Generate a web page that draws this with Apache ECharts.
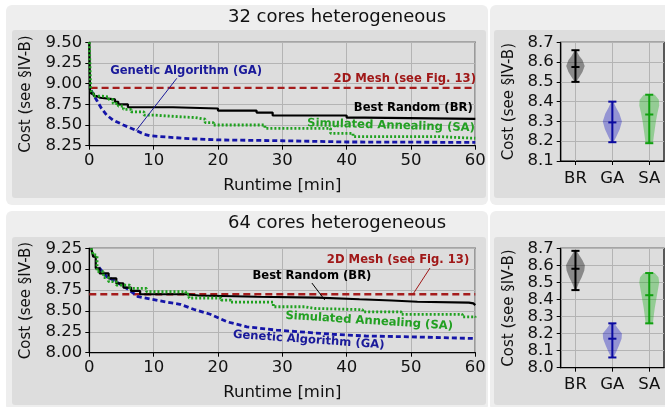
<!DOCTYPE html>
<html><head><meta charset="utf-8">
<script src="https://cdn.jsdelivr.net/npm/echarts@6/dist/echarts.min.js"></script>
<style>html,body{margin:0;padding:0;background:#fff;}#c{width:665px;height:407px;}</style>
</head><body><div id="c"></div>
<script>
// ---------- data ----------
const algoNames = ['BR', 'GA', 'SA'];
const panelTitles = ['32 cores heterogeneous', '64 cores heterogeneous'];

// 32 cores: [runtime min, cost]
const top_BR = [[0,9.5],[0.1,8.93],[0.3,8.88],[0.7,8.85],[1.1,8.83],[1.7,8.81],[4.0,8.78],[4.5,8.75],[6.0,8.715],[13.0,8.70],[20.0,8.675],[26.0,8.65],[28.5,8.615],[40.0,8.59],[42.8,8.575],[60,8.575]];
const top_SA = [[0,9.5],[0.2,8.95],[0.4,8.88],[0.8,8.85],[2.0,8.84],[3.0,8.81],[3.7,8.76],[4.5,8.73],[5.3,8.69],[6.5,8.66],[8.5,8.62],[10,8.60],[14,8.59],[16.5,8.57],[18,8.53],[19.3,8.50],[27.3,8.46],[37.5,8.40],[41,8.36],[54.5,8.35],[57,8.34],[60,8.335]];
const top_GA = [[0.3,8.92],[0.6,8.87],[1.15,8.80],[1.9,8.70],[2.7,8.62],[3.7,8.56],[5.3,8.50],[7.1,8.44],[8.5,8.39],[9.5,8.37],[11,8.36],[15.5,8.335],[20,8.32],[30,8.31],[40,8.295],[60,8.29]];
const top_Mesh = [[0.2,8.95],[60,8.95]];

// 64 cores
const bot_BR = [[0.3,9.25],[0.6,9.15],[1.0,9.01],[1.6,8.95],[3.0,8.89],[4.2,8.83],[5.3,8.78],[6.5,8.74],[7.9,8.70],[15,8.685],[17,8.67],[26,8.66],[35.5,8.64],[42,8.625],[47,8.61],[51,8.60],[59,8.59],[59.7,8.57],[60,8.57]];
const bot_SA = [[0.3,9.25],[0.6,9.17],[1.2,8.97],[2.2,8.90],[3.0,8.85],[4.2,8.81],[6.3,8.77],[8.9,8.73],[15,8.70],[15.5,8.655],[20.5,8.63],[22,8.605],[28.6,8.55],[33.5,8.53],[35,8.515],[42.5,8.49],[48.5,8.46],[58,8.43],[60,8.42]];
const bot_GA = [[1.5,9.02],[2.7,8.91],[4.2,8.85],[5.8,8.77],[7.6,8.67],[11,8.62],[14.1,8.58],[16.2,8.52],[18.8,8.46],[21.4,8.37],[24.5,8.31],[29.1,8.27],[32.7,8.25],[37.9,8.22],[43,8.20],[50,8.19],[60,8.17]];
const bot_Mesh = [[0,8.70],[60,8.70]];

// violin stats [min, median, max] per algorithm (BR, GA, SA)
const top_stats = [[8.50,8.575,8.66],[8.195,8.295,8.40],[8.19,8.335,8.435]];
const bot_stats = [[8.455,8.58,8.685],[8.06,8.17,8.26],[8.26,8.425,8.555]];
// violin profiles [cost, half-width]
const top_prof_BR = [[8.50,0.02],[8.52,0.09],[8.55,0.19],[8.58,0.25],[8.61,0.19],[8.63,0.11],[8.66,0.02]];
const top_prof_GA = [[8.195,0.03],[8.22,0.1],[8.26,0.2],[8.30,0.26],[8.34,0.19],[8.37,0.1],[8.40,0.03]];
const top_prof_SA = [[8.19,0.1],[8.22,0.12],[8.26,0.15],[8.30,0.18],[8.34,0.22],[8.38,0.27],[8.41,0.26],[8.435,0.15]];
const bot_prof_BR = [[8.455,0.02],[8.49,0.08],[8.53,0.17],[8.57,0.24],[8.60,0.255],[8.63,0.19],[8.66,0.1],[8.685,0.03]];
const bot_prof_GA = [[8.06,0.03],[8.09,0.1],[8.13,0.18],[8.17,0.25],[8.20,0.26],[8.23,0.15],[8.26,0.05]];
const bot_prof_SA = [[8.26,0.1],[8.30,0.12],[8.35,0.15],[8.40,0.19],[8.45,0.23],[8.50,0.27],[8.53,0.25],[8.555,0.15]];

// annotations (data coords)
const top_notes = [
  {text:'Genetic Algorithm (GA)', at:[15.05,9.153], color:'#1a1a9a', align:'center', rot:0},
  {text:'2D Mesh (see Fig. 13)', at:[60.1,9.056], color:'#a01818', align:'right', rot:0},
  {text:'Best Random (BR)', at:[59.6,8.706], color:'#000000', align:'right', rot:0},
  {text:'Simulated Annealing (SA)', at:[46.9,8.492], color:'#22a022', align:'center', rot:-1.7}
];
const top_links = [{from:[13.6,9.065], to:[7.26,8.431], color:'#1a1a9a'}];
const bot_notes = [
  {text:'2D Mesh (see Fig. 13)', at:[47.99,9.11], color:'#a01818', align:'center', rot:0},
  {text:'Best Random (BR)', at:[34.6,8.918], color:'#000000', align:'center', rot:0},
  {text:'Simulated Annealing (SA)', at:[43.5,8.379], color:'#22a022', align:'center', rot:-3.6},
  {text:'Genetic Algorithm (GA)', at:[34.1,8.152], color:'#1a1a9a', align:'center', rot:-4}
];
const bot_links = [
  {from:[52.96,9.014], to:[50.3,8.699], color:'#a01818'},
  {from:[34.6,8.834], to:[36.6,8.631], color:'#000000'}
];

// ---------- styles ----------
const FF = 'DejaVu Sans';
const C_BR = '#000000', C_GA = '#1515a8', C_SA = '#1fa01f', C_MESH = '#a51c1c';
const GRIDC = '#b4b4b4';

const chart = echarts.init(document.getElementById('c'), null, {renderer:'canvas', width:665, height:407});

const grids = [
  {left:89.3, top:42.3, width:386, height:103.4},
  {left:560.7, top:42.3, width:103.3, height:118.7},
  {left:89.3, top:248.3, width:386, height:104.4},
  {left:560.7, top:248.3, width:103.3, height:119.4}
].map(g => Object.assign(g, {show:true, borderColor:'#000', borderWidth:1.2, backgroundColor:'transparent', containLabel:false, outerBoundsMode:'none'}));

const axLabel = {color:'#111', fontFamily:FF, fontSize:16.5};
function runtimeAxis(gi){
  return {type:'value', gridIndex:gi, min:0, max:60, interval:10,
    name:'Runtime [min]', nameLocation:'middle', nameGap:32,
    nameTextStyle:{color:'#111', fontFamily:FF, fontSize:16.5},
    axisLine:{show:true, lineStyle:{color:'#000', width:1.2}},
    axisTick:{show:true, length:4, lineStyle:{color:'#000'}},
    axisLabel:Object.assign({margin:7}, axLabel),
    splitLine:{show:true, lineStyle:{color:GRIDC, width:1}}};
}
function algoAxis(gi){
  return {type:'value', gridIndex:gi, min:0.6, max:3.4,
    axisLine:{show:true, lineStyle:{color:'#000', width:1.2}},
    axisTick:{show:true, length:4, lineStyle:{color:'#000'}, customValues:[1,2,3]},
    axisLabel:Object.assign({margin:9, customValues:[1,2,3], formatter:v => algoNames[Math.round(v)-1]}, axLabel),
    splitLine:{show:true, lineStyle:{color:GRIDC, width:1}}};
}
function costAxis(gi, mn, mx, itv, dec, gap){
  return {type:'value', gridIndex:gi, min:mn, max:mx, interval:itv,
    name:'Cost (see §IV-B)', nameLocation:'middle', nameGap:gap,
    nameTextStyle:{color:'#111', fontFamily:FF, fontSize:15},
    axisLine:{show:true, lineStyle:{color:'#000', width:1.2}},
    axisTick:{show:true, length:4, lineStyle:{color:'#000'}},
    axisLabel:Object.assign({margin:7, formatter:v => v.toFixed(dec)}, axLabel),
    splitLine:{show:true, lineStyle:{color:GRIDC, width:1}}};
}

function lineSeries(gi, data, color, type, width, step){
  const s = {type:'line', xAxisIndex:gi, yAxisIndex:gi, data:data, symbol:'none', animation:false,
    lineStyle:{color:color, width:width, type:type}};
  if (step) s.step = 'end';
  return s;
}

function violinSeries(gi, pos, prof, st, fill, stroke){
  return {type:'custom', xAxisIndex:gi, yAxisIndex:gi, data:[[pos, st[1]]], animation:false, z:3,
    renderItem:(params, api) => {
      const pts = [];
      prof.forEach(p => pts.push(api.coord([pos + p[1], p[0]])));
      for (let i = prof.length - 1; i >= 0; i--) pts.push(api.coord([pos - prof[i][1], prof[i][0]]));
      const cap = 0.11;
      const ln = (a, b) => ({type:'line', shape:{x1:a[0], y1:a[1], x2:b[0], y2:b[1]}, style:{stroke:stroke, lineWidth:2}});
      return {type:'group', children:[
        {type:'polygon', shape:{points:pts}, style:{fill:fill}},
        ln(api.coord([pos, st[0]]), api.coord([pos, st[2]])),
        ln(api.coord([pos-cap, st[0]]), api.coord([pos+cap, st[0]])),
        ln(api.coord([pos-cap, st[1]]), api.coord([pos+cap, st[1]])),
        ln(api.coord([pos-cap, st[2]]), api.coord([pos+cap, st[2]]))
      ]};
    }};
}

const fills = ['rgba(0,0,0,0.38)', 'rgba(0,0,190,0.33)', 'rgba(0,170,0,0.33)'];
const strokes = ['#000000', '#0a0aa0', '#10a010'];
const topProfs = [top_prof_BR, top_prof_GA, top_prof_SA];
const botProfs = [bot_prof_BR, bot_prof_GA, bot_prof_SA];

const series = [
  lineSeries(0, top_Mesh, C_MESH, [7,4], 2.3, false),
  lineSeries(0, top_GA, C_GA, [5,3], 2.8, false),
  lineSeries(0, top_BR, C_BR, 'solid', 2.2, true),
  lineSeries(0, top_SA, C_SA, [2,2], 2.8, true),
  lineSeries(2, bot_Mesh, C_MESH, [7,4], 2.3, false),
  lineSeries(2, bot_GA, C_GA, [5,3], 2.8, false),
  lineSeries(2, bot_BR, C_BR, 'solid', 2.2, true),
  lineSeries(2, bot_SA, C_SA, [2,2], 2.8, true)
];
for (let i = 0; i < 3; i++) {
  series.push(violinSeries(1, i+1, topProfs[i], top_stats[i], fills[i], strokes[i]));
  series.push(violinSeries(3, i+1, botProfs[i], bot_stats[i], fills[i], strokes[i]));
}

const OUTER = '#eeeeee', INNER = '#dddddd';
const bg = [
  {type:'rect', z:-20, shape:{x:6, y:5, width:482, height:200, r:6}, style:{fill:OUTER}},
  {type:'rect', z:-19, shape:{x:12, y:30, width:474, height:168, r:3}, style:{fill:INNER}},
  {type:'rect', z:-20, shape:{x:490, y:5, width:180, height:200, r:6}, style:{fill:OUTER}},
  {type:'rect', z:-19, shape:{x:494, y:30, width:176, height:168, r:3}, style:{fill:INNER}},
  {type:'rect', z:-20, shape:{x:6, y:211, width:482, height:200, r:6}, style:{fill:OUTER}},
  {type:'rect', z:-19, shape:{x:12, y:237, width:474, height:168, r:3}, style:{fill:INNER}},
  {type:'rect', z:-20, shape:{x:490, y:211, width:180, height:200, r:6}, style:{fill:OUTER}},
  {type:'rect', z:-19, shape:{x:494, y:237, width:176, height:168, r:3}, style:{fill:INNER}},
  {type:'text', z:5, x:337, y:17, style:{text:panelTitles[0], fill:'#111', font:'18px "DejaVu Sans"', textAlign:'center', textVerticalAlign:'middle'}},
  {type:'text', z:5, x:337, y:223, style:{text:panelTitles[1], fill:'#111', font:'18px "DejaVu Sans"', textAlign:'center', textVerticalAlign:'middle'}}
];

chart.setOption({
  animation:false,
  backgroundColor:'#ffffff',
  grid:grids,
  xAxis:[runtimeAxis(0), algoAxis(1), runtimeAxis(2), algoAxis(3)],
  yAxis:[costAxis(0, 8.25, 9.5, 0.25, 2, 56), costAxis(1, 8.1, 8.7, 0.1, 1, 44),
         costAxis(2, 8.0, 9.25, 0.25, 2, 56), costAxis(3, 8.0, 8.7, 0.1, 1, 44)],
  series:series,
  graphic:bg
});

function notesGraphics(gi, notes, links){
  const out = [];
  links.forEach(l => {
    const a = chart.convertToPixel({gridIndex:gi}, l.from);
    const b = chart.convertToPixel({gridIndex:gi}, l.to);
    out.push({type:'line', z:6, shape:{x1:a[0], y1:a[1], x2:b[0], y2:b[1]}, style:{stroke:l.color, lineWidth:1}});
  });
  notes.forEach(n => {
    const p = chart.convertToPixel({gridIndex:gi}, n.at);
    out.push({type:'text', z:6, x:p[0], y:p[1], rotation:n.rot * Math.PI / 180,
      style:{text:n.text, fill:n.color, font:'bold 11.6px "DejaVu Sans"', textAlign:n.align, textVerticalAlign:'middle'}});
  });
  return out;
}
chart.setOption({graphic: bg.concat(notesGraphics(0, top_notes, top_links), notesGraphics(2, bot_notes, bot_links))});
</script>
</body></html>
